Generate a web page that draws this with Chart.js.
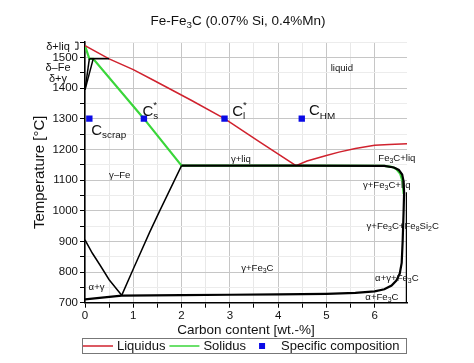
<!DOCTYPE html>
<html>
<head>
<meta charset="utf-8">
<script src="https://cdn.jsdelivr.net/npm/chart.js@4/dist/chart.umd.min.js"></script>
<style>
  html, body { margin: 0; padding: 0; background: #fff; }
  #wrap { width: 474px; height: 363px; position: relative; }
</style>
</head>
<body>
<div id="wrap"><canvas id="chart" width="474" height="363"></canvas></div>
<script>
const FONT = '"Liberation Sans", Arial, sans-serif';

// liquidus (red)
const liqC = [0, 0.5, 1.0, 1.41, 2.2, 2.89, 3.6, 4.37, 4.6, 5.0, 5.26, 5.6, 6.0, 6.3, 6.67];
const liqT = [1538, 1495, 1460, 1426, 1360, 1300, 1226, 1147, 1162, 1180, 1191, 1203, 1213, 1216, 1218];

// solidus (green)
const solC = [0, 0.09, 0.17, 1.22, 2.0, 4.4, 6.2, 6.35, 6.45, 6.53, 6.58, 6.6];
const solT = [1538, 1495, 1495, 1300, 1147, 1147, 1146, 1143, 1136, 1120, 1095, 1055];

// specific compositions
const compC = [0.09, 1.22, 2.89, 4.49];
const compT = [1300, 1300, 1300, 1300];

// other phase boundaries (black)
const peritC = [0.09, 0.5];
const peritT = [1495, 1495];
const deltaC = [0, 0.09];
const deltaT = [1394, 1495];
const deltaGammaC = [0, 0.17];
const deltaGammaT = [1394, 1495];
const a3C = [0, 0.15, 0.31, 0.5, 0.76];
const a3T = [905, 862, 823, 775, 724];
const acmC = [0.76, 1.0, 1.34, 1.55, 2.0];
const acmT = [724, 810, 930, 1000, 1147];
const loopC = [0, 0.3, 0.76, 2, 3, 4, 5, 5.6, 6.0, 6.2, 6.35, 6.45, 6.52, 6.56, 6.58, 6.6, 6.61, 6.6, 6.57, 6.5, 6.4, 6.2, 4.37, 2.0];
const loopT = [711, 716, 723, 725, 726, 727, 729, 732, 737, 744, 756, 772, 795, 830, 900, 1000, 1060, 1095, 1118, 1133, 1141, 1146, 1147, 1147];
const fe3cC = [6.66, 6.66];
const fe3cT = [700, 1060];

// axis ticks
const carbonTicks = [0, 1, 2, 3, 4, 5, 6];
const tempTicks = [700, 800, 900, 1000, 1100, 1200, 1300, 1400, 1500];
const deltaLabels = ['δ+liq', 'δ–Fe', 'δ+γ'];
const deltaTemps = [1538, 1468, 1432];

// region labels
const regionText = ['liquid', 'γ+liq', 'γ–Fe', 'Fe_{3}C+liq', 'γ+Fe_{3}C+liq', 'γ+Fe_{3}C+Fe_{8}Si_{2}C', 'γ+Fe_{3}C', 'α+γ+Fe_{3}C', 'α+Fe_{3}C', 'α+γ'];
const regionC = [5.32, 3.23, 0.72, 6.46, 6.25, 6.58, 3.57, 6.46, 6.15, 0.24];
const regionT = [1464, 1167, 1115, 1171, 1083, 949, 813, 780, 719, 749];

// composition labels
const compText = ['C_{scrap}', 'C_{s}^{*}', 'C_{l}^{*}', 'C_{HM}'];
const compLabelC = [0.13, 1.19, 3.05, 4.64];
const compLabelT = [1261, 1323, 1323, 1325];

const pts = (xs, ys) => xs.map((x, i) => ({ x, y: ys[i] }));

function parseRich(str) {
  const segs = [];
  const re = /([_^])\{([^}]*)\}|([^_^]+)/g;
  let m;
  while ((m = re.exec(str))) {
    if (m[3]) segs.push({ t: m[3], k: 'n' });
    else segs.push({ t: m[2], k: m[1] === '_' ? 'sub' : 'sup' });
  }
  return segs;
}

function drawRich(ctx, str, x, y, size, align, ratio) {
  const segs = parseRich(str);
  const small = size * (ratio || 0.72);
  let w = 0;
  const widths = segs.map(s => {
    ctx.font = (s.k === 'n' ? size : small) + 'px ' + FONT;
    return ctx.measureText(s.t).width;
  });
  // a sup right after a sub sits above it
  const xs = [];
  segs.forEach((s, i) => {
    if (s.k === 'sup' && i > 0 && segs[i - 1].k === 'sub') {
      xs.push(xs[i - 1]);
      w = Math.max(w, xs[i] + widths[i]);
    } else {
      xs.push(w);
      w += widths[i];
    }
  });
  let x0 = x;
  if (align === 'center') x0 = x - w / 2;
  else if (align === 'right') x0 = x - w;
  ctx.textBaseline = 'middle';
  ctx.textAlign = 'left';
  segs.forEach((s, i) => {
    ctx.font = (s.k === 'n' ? size : small) + 'px ' + FONT;
    let dy = 0;
    if (s.k === 'sub') dy = size * 0.32;
    if (s.k === 'sup') dy = -size * 0.42;
    ctx.fillText(s.t, x0 + xs[i], y + dy);
  });
  return w;
}

const overlay = {
  id: 'overlay',
  afterDraw(chart) {
    const { ctx, scales: { x, y } } = chart;
    ctx.save();
    ctx.fillStyle = '#111';

    // title
    drawRich(ctx, 'Fe-Fe_{3}C (0.07% Si, 0.4%Mn)', 238, 21, 13.5, 'center');

    // delta labels left of the axis
    deltaLabels.forEach((t, i) => {
      drawRich(ctx, t, 58, y.getPixelForValue(deltaTemps[i]) + 1, 11, 'center');
    });
    ctx.strokeStyle = '#111';
    ctx.lineWidth = 1;
    const by = y.getPixelForValue(1538);
    ctx.beginPath();
    ctx.moveTo(75, by - 3.5); ctx.lineTo(78, by - 3.5); ctx.lineTo(78, by + 3.5); ctx.lineTo(75, by + 3.5);
    ctx.stroke();

    // region labels
    regionText.forEach((t, i) => {
      drawRich(ctx, t, x.getPixelForValue(regionC[i]), y.getPixelForValue(regionT[i]), 9.6, 'center');
    });

    // composition labels
    compText.forEach((t, i) => {
      drawRich(ctx, t, x.getPixelForValue(compLabelC[i]), y.getPixelForValue(compLabelT[i]), 15, 'left', 0.66);
    });

    // legend box
    const ly = 346;
    ctx.strokeStyle = '#777';
    ctx.lineWidth = 1;
    ctx.strokeRect(82.5, 338.5, 324, 15);
    ctx.font = '13px ' + FONT;
    ctx.textBaseline = 'middle';
    ctx.textAlign = 'left';
    let lx = 83;
    chart.data.datasets.slice(0, 3).forEach(ds => {
      if (ds.pointStyle === 'rect') {
        ctx.fillStyle = ds.backgroundColor;
        ctx.fillRect(lx + 9, ly - 3, 6, 6);
        lx += 31;
      } else {
        ctx.strokeStyle = ds.borderColor;
        ctx.lineWidth = 1.5;
        ctx.beginPath(); ctx.moveTo(lx, ly); ctx.lineTo(lx + 30, ly); ctx.stroke();
        lx += 34;
      }
      ctx.fillStyle = '#111';
      ctx.fillText(ds.label, lx, ly + 0.5);
      lx += ctx.measureText(ds.label).width + 4;
    });
    ctx.restore();
  }
};

const isStep = (v, s) => Math.abs(v / s - Math.round(v / s)) < 1e-6;
const black = (data, w) => ({
  label: '', data, showLine: true, borderColor: '#000', borderWidth: w,
  pointRadius: 0, order: 1, tension: 0
});

new Chart(document.getElementById('chart'), {
  type: 'scatter',
  data: {
    datasets: [
      { label: 'Liquidus', data: pts(liqC, liqT), showLine: true, borderColor: '#d0222e', borderWidth: 1.5,
        pointRadius: 0, pointStyle: 'line', order: 2, tension: 0 },
      { label: 'Solidus', data: pts(solC, solT), showLine: true, borderColor: '#3ad63a', borderWidth: 2.2,
        pointRadius: 0, pointStyle: 'line', order: 3, tension: 0 },
      { label: 'Specific composition', data: pts(compC, compT), showLine: false, pointStyle: 'rect',
        backgroundColor: '#0a0ae6', borderColor: '#0a0ae6', pointRadius: 4.5, borderWidth: 0, order: 0 },
      black(pts(peritC, peritT), 1.5),
      black(pts(deltaC, deltaT), 1.5),
      black(pts(deltaGammaC, deltaGammaT), 1.5),
      black(pts(a3C, a3T), 1.5),
      black(pts(acmC, acmT), 1.5),
      black(pts(loopC, loopT), 2.2),
      black(pts(fe3cC, fe3cT), 1.5)
    ]
  },
  options: {
    responsive: false,
    animation: false,
    layout: { padding: { top: 42, right: 67, bottom: 22, left: 0 } },
    plugins: {
      legend: { display: false },
      tooltip: { enabled: false },
      title: { display: false }
    },
    scales: {
      x: {
        type: 'linear', min: 0, max: 6.67,
        afterFit: s => { s.height = 38.3; },
        afterBuildTicks: s => { s.ticks = s.ticks.filter(t => isStep(t.value, 0.5)); },
        ticks: {
          stepSize: 0.5, padding: 1, color: '#111', font: { family: FONT, size: 11.5 },
          maxRotation: 0, autoSkip: false,
          callback: v => carbonTicks.includes(v) ? String(v) : ''
        },
        grid: {
          color: c => isStep(c.tick.value, 1) ? '#c6c6c6' : '#e8e8e8',
          tickColor: '#000', tickLength: 5, lineWidth: 1
        },
        border: { color: '#000', width: 1.5 },
        title: { display: true, text: 'Carbon content [wt.-%]', color: '#111',
          font: { family: FONT, size: 13.5 }, padding: { top: 0, bottom: 3 } }
      },
      y: {
        type: 'linear', min: 700, max: 1550,
        afterFit: s => { s.width = 85; },
        ticks: {
          stepSize: 50, padding: 2, color: '#111', font: { family: FONT, size: 11.5 },
          autoSkip: false,
          callback: v => tempTicks.includes(v) ? String(v) : ''
        },
        grid: {
          color: c => isStep(c.tick.value, 100) ? '#c6c6c6' : '#ececec',
          tickColor: '#000', tickLength: 5, lineWidth: 1
        },
        border: { color: '#000', width: 1.5 },
        title: { display: true, text: 'Temperature [°C]', color: '#111',
          font: { family: FONT, size: 15 }, padding: { top: 31, bottom: 0 } }
      }
    }
  },
  plugins: [overlay]
});
</script>
</body>
</html>
